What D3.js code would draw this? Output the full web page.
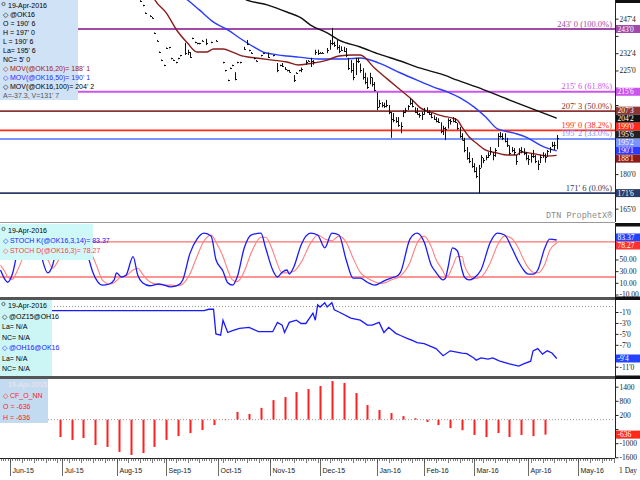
<!DOCTYPE html>
<html><head><meta charset="utf-8">
<script src="https://cdn.jsdelivr.net/npm/d3@7/dist/d3.min.js"></script>
<style>
html,body{margin:0;padding:0;background:#fff;}
svg{display:block;}
</style></head><body>
<svg id="chart" width="640" height="480"></svg>
<script>
// ================= DATA =================
const originDate = "2015-06-01";           // weekday index 0 of the time axis
const monthTickDates = ["2015-06-01","2015-07-01","2015-08-03","2015-09-01","2015-10-01","2015-11-02","2015-12-01","2016-01-04","2016-02-01","2016-03-01","2016-04-01","2016-05-02"];
const monthLabels = ["Jun-15","Jul-15","Aug-15","Sep-15","Oct-15","Nov-15","Dec-15","Jan-16","Feb-16","Mar-16","Apr-16","May-16"];

// daily bars of @OK16, first entry is weekday index 55 (17-Aug-2015); null = no trade
const barStartDay = 55;
const barHigh = [255.5,253.5,250.25,null,249,248.25,241.5,238.25,233.25,229.75,227.5,235,235.25,230.5,229.75,228.75,230.5,231.75,null,237,234,233,239.25,237.5,237,237,238.25,null,238.75,null,237.5,null,238.25,null,null,228.75,225.25,221,226.25,227.5,224.25,228.75,228.75,null,235.25,238.25,234,233,230.5,229.5,null,231.75,232.75,null,232.75,null,231.75,null,228.25,227.5,228.25,226.5,225.25,225.25,null,223,224.25,225.25,226.25,null,229.5,229.5,230.5,229.5,234,234,233,233,null,234.75,238.25,243.5,237.5,238.25,236,235.5,235.25,234.75,230.5,229.5,228.25,230.5,230.5,228,226,224,222,224,222,220,215.5,212.25,211.25,211,212.25,210,207,206.5,204.75,204.75,202.5,207.75,208.75,210,213,212.25,209,208.75,206.5,207,208.75,209,207.75,206.5,205.5,204.75,204.25,202.5,201,200.5,204.25,204,204.75,204.25,202.25,200.5,197.75,195.75,191.75,189.5,187,184.75,183,184,188.25,187,188.25,189.5,191.75,189.5,191.25,197.75,198.25,197.75,197.75,195.75,192.5,191.75,191.25,188.25,191.25,191.75,191.25,189.5,188.25,189,190.5,188.25,186,188.25,189.5,189,190.5,191.75,194,194,197];
const barLow  = [254.75,253,249.75,null,248.5,247.75,241,237.75,232.75,229.25,227,234.5,234.75,230,229.25,228.25,230,231.25,null,231.75,231.75,230.5,238.75,237,236.5,236.5,237.75,null,236,null,237,null,237.75,null,null,228.25,224.75,220.5,225.75,227,220.75,228.25,228.25,null,234,236,233.5,232.5,230,229,null,231.25,232.25,null,230.5,null,231.25,null,224.25,227,226.5,225.25,224.75,224.25,null,220,223.75,224.75,224.25,null,227.5,229,226.5,227.5,231.75,231.75,232.5,232.5,null,232.5,234,236,235.25,234,232.5,233.5,233,230.75,225.25,224,220.75,223,228.25,224,221,219,217,219,218,216,207.75,209,209,208.75,209,206,195.75,202.5,202.25,200.5,197.75,204.75,206.5,207.75,210,209,206.5,205.75,204.5,203.5,205.75,206.5,205.75,204.25,203.5,202.5,202.25,197.75,197,194.75,199.75,201.5,202.5,202.25,199.25,195.75,194.75,189.5,186.25,184.75,182.75,180.75,178.25,171.75,182.75,184.75,186,187,188.25,186,187.5,191.75,195.75,194.75,193.75,191.75,188.25,189.5,188.25,184,188.25,189,188.25,186,184,185,187,184.75,181.75,184.75,187,185,187.5,189.25,191.75,190.5,190.75];
const barClose= [255,253.25,250,null,248.75,248,241.25,238,233,229.5,227.25,234.75,235,230.25,229.5,228.5,230.25,231.5,null,232.5,233,231,239,237.25,236.75,236.75,238,null,237,null,237.25,null,238,null,null,228.5,225,220.75,226,227.25,221.5,228.5,228.5,null,234.5,236.5,233.75,232.75,230.25,229.25,null,231.5,232.5,null,231,null,231.5,null,225,227.25,227,225.5,225,224.5,null,221,224,225,225.5,null,228.5,229.25,229,228.5,233,232.5,232.75,232.75,null,234,237,237,236,235,233.5,234,233.5,231.5,226,225,222,229,229,225,222,220,218,222,219,216.5,209,211,210,209.5,210,207,204,203.5,203,201.5,201,207,208,209.5,211,209.5,207,206,205.5,206,208,207,206,205,204,203,202.5,198.5,200,199.5,203.5,203,203,202.5,200,196.5,195,190.5,187,185.5,183.5,181.5,179,182.5,187.5,186,187.5,188.5,190,188.5,190.5,196.5,196.5,195.5,194.5,192.5,189,190.5,189.5,185.5,190.5,190,189,187,186.5,188,188,185.5,184.5,187.5,188.5,187.5,190,191,192.5,192.75,195.75];
const lastOpen = 190.75, netChange = "5' 0";

// moving averages (day index, value)
const ma20Days  = [58,61,66,71,75,79,83,86,90,94,97,104,111,117,122,128,134,139,145,148,154,160,165,170,173,179,183,187,189,191,194,197,201,206,210,214,216,220,224,227,231];
const ma20Vals  = [263,256,250,241.7,236.9,233,233,234.3,234.3,233,231.7,230.4,229.5,228.7,227.4,228.2,229.5,231.3,231.7,231.7,226.1,220.8,216.5,212.2,209.1,206.5,205.2,204.3,203.5,200.4,196.1,193.5,190.4,189.1,188.3,188.3,189.6,189.1,188.3,187.8,188.125];
const ma50Days  = [70,75,80,86,92,97,103,107,111,117,122,130,136,142,148,156,165,172,179,185,190,196,201,206,213,218,224,227,231];
const ma50Vals  = [259,255.6,251.3,246,242.6,239.1,235.2,233,232.1,231.3,230.8,230,230,230,230.4,228.2,223.9,220.8,217.8,215.6,213.2,209.2,204.8,199.6,197.8,196.1,192.6,191.3,190.125];
const ma100Days = [95,100,109,117,123,127,134,139,148,156,165,173,182,189,200,210,221,231];
const ma100Vals = [258,255.6,253.4,250.4,247.8,244.7,241.3,238.2,235.2,232.1,229.1,226.1,223.5,220.8,216.7,212.6,208.2,204.25];
const maNames = ["MOV(@OK16,20)","MOV(@OK16,50)","MOV(@OK16,100)"];

// Fibonacci retracement levels
const fibLevels = [243, 215.75, 207.375, 199, 195.25, 171.75];
const fibPct    = ["100.0%","61.8%","50.0%","38.2%","33.0%","0.0%"];
const priceTicks = [165,172.5,180,187.5,195,202.5,210,217.5,225,232.5,240,247.5];

// stochastics (day index, %K, %D)
const stochDays = [-4,-2,-1,1,3,6,9,12,14,16,18,20,23,26,30,33,35,37,39,42,44,45,47,49,52,54,56,59,63,68,71,73,76,79,82,85,87,90,92,94,96,99,102,106,108,111,113,115,117,118,120,123,127,130,133,136,139,142,145,148,151,154,157,159,161,164,165,169,172,175,178,180,183,184,185,187,189,191,192,194,196,199,203,206,209,212,215,217,219,221,223,226,228,231];
const stochK = [32,15,11,25,60,88,95,85,45,27,40,75,92,95,85,55,28,12,6,8,15,27,20,23,55,23,10,5,8,3,6,15,60,85,95,90,50,30,10,6,20,70,92,95,70,32,20,28,32,25,38,75,95,92,70,95,92,50,18,18,11,6,11,15,18,23,28,85,95,80,40,28,15,18,35,70,65,32,20,15,18,32,80,95,92,70,45,32,25,25,32,70,85,83.37];
const stochD = [40,28,20,16,30,58,82,90,72,50,35,45,72,88,92,78,55,35,15,8,10,14,20,22,32,35,25,12,7,6,5,8,25,55,82,92,80,55,32,15,12,30,62,88,88,65,42,27,27,28,30,45,78,92,85,82,90,80,52,28,18,12,9,11,15,19,22,45,78,90,72,50,30,22,22,38,55,55,40,24,17,20,45,75,90,86,68,50,36,28,27,42,65,78.27];
const stochTicks = [-10,10,30,50,70,90];
const stochBands = [80,20];

// spread @OZ15@OH16 then @OH16@OK16
const spreadDays = [0,82,84,86,87,89,90,92,94,97,101,105,111,113,115,116,118,121,123,125,128,129,130,131,133,134,136,137,139,144,148,151,153,156,158,160,163,165,168,170,172,175,180,183,186,191,193,196,197,199,202,204,206,207,211,215,217,220,221,223,225,227,229,231];
const spreadVals = [-0.75,-0.75,-0.5,-0.5,-5,-5.25,-2.5,-4.75,-4.4,-4,-3.8,-4.6,-4.6,-2.9,-3.4,-4.75,-2.9,-2.5,-3.1,-3.1,-1.2,-2.5,0.3,-0.1,0.7,-0.1,0.7,-0.6,-1,-2.1,-2.5,-3.4,-3.4,-2.9,-4.75,-3.8,-4.9,-5.3,-5.85,-6.2,-6.6,-6.8,-7.7,-9,-8.1,-8.5,-8.6,-9.4,-9.8,-9.4,-9.6,-9.4,-9.8,-10,-10.5,-10.9,-10.5,-10,-8.1,-7.7,-8.7,-8.1,-8.5,-9.5];
const spreadTicks = [-1,-3,-5,-7,-9,-11];

// CFTC net non-commercial (weekly, Tuesdays from 30-Jun-2015 = day 21)
const cotFirstDay = 21;
const cotVals = [-740,-860,-780,-1080,-1160,-1370,-1500,-1420,-1160,-860,-700,-570,-440,-230,-20,330,240,500,830,960,1170,1300,1430,1640,1560,1130,620,410,280,150,60,-100,-230,-360,-450,-650,-740,-570,-740,-650,-700,-636];
const cotTicks = [1400,800,200,-400,-1000,-1600];

// ================= DRAWING =================
const svg = d3.select("#chart");
const SANS = "'Liberation Sans', Arial, sans-serif";
const SERIF = "'Liberation Serif', 'Times New Roman', serif";
const AX = 615; // right axis x

function dayIndex(s){
  const d0 = new Date(originDate+"T00:00:00Z"), d = new Date(s+"T00:00:00Z");
  let n = 0;
  for (let t = new Date(d0); t < d; t.setUTCDate(t.getUTCDate()+1)) { const w = t.getUTCDay(); if (w!==0 && w!==6) n++; }
  return n;
}
const x = d3.scaleLinear().domain([0,240]).range([10,578]);
const xs = d => Math.round(x(d)) + 0.5;

const y1 = d3.scaleLinear().domain([159.2,255.6]).range([222,0]);
const y2 = d3.scaleLinear().domain([-10,100]).range([294.5,230.3]);
const y3 = d3.scaleLinear().domain([-11,-1]).range([366.7,312]);
const y4 = d3.scaleLinear().domain([-1600,1400]).range([457.3,386.7]);

const defs = svg.append("defs");
function clip(id, top, bottom){
  defs.append("clipPath").attr("id",id).append("rect").attr("x",0).attr("y",top).attr("width",AX).attr("height",bottom-top);
  return svg.append("g").attr("clip-path",`url(#${id})`);
}
const fmt8 = v => { const s = v<0?"-":""; const a = Math.abs(v); let w = Math.floor(a+1e-9); let e = Math.round((a-w)*8); if(e===8){w++;e=0;} return s+w+"'"+e; };
const fmt8s = v => fmt8(v).replace("'","' ");

// ---------- Panel 1 ----------
const g1 = clip("c1",0,222);
const fibColors = ["#a14aa8","#cc55ee","#8c3535","#ff2a1a","#7a95ff","#2b3d66"];
fibLevels.forEach((v,i)=>{
  g1.append("line").attr("x1",0).attr("x2",AX).attr("y1",y1(v)).attr("y2",y1(v))
    .attr("stroke",fibColors[i]).attr("stroke-width",1.8);
  g1.append("text").attr("x",612).attr("y",y1(v)-2.5).attr("text-anchor","end")
    .attr("font-family",SERIF).attr("font-size",8.5).attr("fill",fibColors[i])
    .text(fmt8s(v)+" ("+fibPct[i]+")");
});
const line1 = d3.line().x(d=>x(d[0])).y(d=>y1(d[1])).curve(d3.curveMonotoneX);
[[ma100Days,ma100Vals,"#111"],[ma50Days,ma50Vals,"#2a3cff"],[ma20Days,ma20Vals,"#8b1c1c"]].forEach(([ds,vs,c])=>{
  g1.append("path").attr("d",line1(ds.map((d,i)=>[d,vs[i]]))).attr("fill","none").attr("stroke",c).attr("stroke-width",1.4);
});
const bars = barHigh.map((h,i)=>({d:barStartDay+i,h,l:barLow[i],c:barClose[i]})).filter(b=>b.h!==null);
bars.forEach(b=>{
  const xx = xs(b.d); let yt = y1(b.h), yb = y1(b.l); if (yb-yt < 1.5) { yb = yt+1.5; }
  g1.append("line").attr("x1",xx).attr("x2",xx).attr("y1",yt).attr("y2",yb).attr("stroke","#111").attr("stroke-width",1);
  g1.append("line").attr("x1",xx).attr("x2",xx+1.5).attr("y1",Math.round(y1(b.c))+0.5).attr("y2",Math.round(y1(b.c))+0.5).attr("stroke","#111").attr("stroke-width",1);
});
svg.append("text").attr("x",546).attr("y",218).attr("font-family","'Liberation Mono','DejaVu Sans Mono',monospace")
  .attr("font-size",8.5).attr("fill","#8a8a8a").text("DTN ProphetX®");

// legend panel 1
const last = bars[bars.length-1];
svg.append("rect").attr("x",0).attr("y",0).attr("width",78).attr("height",100).attr("fill","#cfe2f6");
const leg1 = [
  ["19-Apr-2016","#000"],["◇ @OK16","#000"],["O = "+fmt8s(lastOpen),"#000"],["H = "+fmt8s(last.h),"#000"],
  ["L = "+fmt8s(last.l),"#000"],["La= "+fmt8s(last.c),"#000"],["NC= "+netChange,"#000"],
  ["◇ "+maNames[0]+"= "+fmt8s(ma20Vals[ma20Vals.length-1]),"#a01818"],
  ["◇ "+maNames[1]+"= "+fmt8s(ma50Vals[ma50Vals.length-1]),"#1f2fff"],
  ["◇ "+maNames[2]+"= "+fmt8s(ma100Vals[ma100Vals.length-1]),"#000"],
  ["A=-37.3, V=131' 7","#555"]
];
leg1.forEach((r,i)=>{
  svg.append("text").attr("x", i===0?8:3).attr("y",8+i*9).attr("font-family",SANS).attr("font-size",7).attr("fill",r[1]).text(r[0]);
});
svg.append("circle").attr("cx",3.5).attr("cy",4).attr("r",1.6).attr("fill","none").attr("stroke","#333").attr("stroke-width",0.7);

// ---------- Panel 2 ----------
const g2 = clip("c2",224,297);
stochBands.forEach(v=>g2.append("line").attr("x1",0).attr("x2",AX).attr("y1",y2(v)).attr("y2",y2(v)).attr("stroke","#ff7070").attr("stroke-width",1.3));
const line2 = d3.line().x(d=>x(d[0])).y(d=>y2(d[1])).curve(d3.curveMonotoneX);
g2.append("path").attr("d",line2(stochDays.map((d,i)=>[d,stochD[i]]))).attr("fill","none").attr("stroke","#ff7f7f").attr("stroke-width",1.1);
g2.append("path").attr("d",line2(stochDays.map((d,i)=>[d,stochK[i]]))).attr("fill","none").attr("stroke","#1a1aff").attr("stroke-width",1.3);
svg.append("rect").attr("x",0).attr("y",224).attr("width",93).attr("height",36).attr("fill","#cff8f8");
[["19-Apr-2016","#000"],["◇ STOCH K(@OK16,3,14)= "+stochK[stochK.length-1].toFixed(2),"#1a1aff"],["◇ STOCH D(@OK16,3)= "+stochD[stochD.length-1].toFixed(2),"#ff4040"]]
  .forEach((r,i)=>svg.append("text").attr("x",i===0?8:3).attr("y",233+i*10).attr("font-family",SANS).attr("font-size",7).attr("fill",r[1]).text(r[0]));
svg.append("circle").attr("cx",3.5).attr("cy",229).attr("r",1.6).attr("fill","none").attr("stroke","#333").attr("stroke-width",0.7);

// ---------- Panel 3 ----------
const g3 = clip("c3",300,376);
g3.append("line").attr("x1",0).attr("x2",AX).attr("y1",y3(0)).attr("y2",y3(0)).attr("stroke","#999").attr("stroke-dasharray","1,2");
const line3 = d3.line().x(d=>x(d[0])).y(d=>y3(d[1]));
g3.append("path").attr("d",line3(spreadDays.map((d,i)=>[d,spreadVals[i]]))).attr("fill","none").attr("stroke","#1a1aff").attr("stroke-width",1.3);
svg.append("rect").attr("x",0).attr("y",300).attr("width",52).attr("height",77).attr("fill","#ccf6f6");
["19-Apr-2016","◇ @OZ15@OH16","La= N/A","NC= N/A","◇ @OH16@OK16","La= N/A","NC= N/A"].forEach((t,i)=>
  svg.append("text").attr("x",i===0?8:2).attr("y",308+i*10.5).attr("font-family",SANS).attr("font-size",7).attr("fill",i===4?"#1a1aff":"#000").text(t));
svg.append("circle").attr("cx",3.5).attr("cy",304).attr("r",1.6).attr("fill","none").attr("stroke","#333").attr("stroke-width",0.7);

// ---------- Panel 4 ----------
const g4 = clip("c4",379,457);
g4.append("line").attr("x1",0).attr("x2",AX).attr("y1",y4(0)).attr("y2",y4(0)).attr("stroke","#999").attr("stroke-dasharray","1,2");
cotVals.forEach((v,i)=>{
  const d = cotFirstDay + 5*i;
  g4.append("rect").attr("x",Math.round(x(d))-0.5).attr("width",2).attr("y",Math.min(y4(0),y4(v))).attr("height",Math.abs(y4(v)-y4(0))).attr("fill","#ff2020");
});
svg.append("rect").attr("x",0).attr("y",379).attr("width",48).attr("height",44).attr("fill","#c3dbf0");
[["19-Apr-2016","#f4e4ea"],["◇ CF_O_NN","#ff2020"],["O = "+cotVals[cotVals.length-1],"#ff2020"],["H = "+cotVals[cotVals.length-1],"#ff2020"]]
  .forEach((r,i)=>svg.append("text").attr("x",i===0?8:3).attr("y",387+i*11).attr("font-family",SANS).attr("font-size",7).attr("fill",r[1]).text(r[0]));

// ---------- Separators ----------
svg.append("line").attr("x1",0).attr("x2",AX).attr("y1",222.5).attr("y2",222.5).attr("stroke","#9a9a9a");
[[298.5,3],[377.5,3]].forEach(([yy,w])=>svg.append("line").attr("x1",0).attr("x2",640).attr("y1",yy).attr("y2",yy).attr("stroke","#555").attr("stroke-width",w));
[[0,3],[223,3.5],[296.5,3.5],[375.5,3.5]].forEach(([yy,h])=>svg.append("rect").attr("x",AX).attr("y",yy).attr("width",25).attr("height",h).attr("fill","#111"));

// ---------- Right axes with value tags ----------
const TAGH = 8;
function layoutTags(tags){
  tags.sort((a,b)=>a.y-b.y);
  for (let it=0; it<20; it++){
    let moved=false;
    for (let i=1;i<tags.length;i++){
      const ov = TAGH - (tags[i].y - tags[i-1].y);
      if (ov > 0.01){ tags[i-1].y -= ov/2; tags[i].y += ov/2; moved=true; }
    }
    if(!moved) break;
  }
  return tags;
}
function rightAxis(scale, ticks, fmt, top, bottom, tags){
  svg.append("line").attr("x1",AX+0.5).attr("x2",AX+0.5).attr("y1",top).attr("y2",bottom).attr("stroke","#222");
  const g = svg.append("g").attr("transform",`translate(${AX+0.5},0)`)
    .call(d3.axisRight(scale).tickValues(ticks).tickFormat(fmt).tickSize(3).tickPadding(1));
  g.select(".domain").remove();
  g.selectAll("line").attr("stroke","#222");
  g.selectAll("text").attr("font-family",SERIF).attr("font-size",7.5).attr("fill","#222");
  layoutTags(tags);
  g.selectAll(".tick").each(function(t){
    const ty = scale(t);
    if (tags.some(tg=>Math.abs(tg.y-ty) < TAGH)) d3.select(this).select("text").remove();
  });
  tags.forEach(tg=>{
    svg.append("rect").attr("x",AX+1).attr("y",tg.y-TAGH/2).attr("width",24).attr("height",TAGH).attr("fill",tg.bg);
    svg.append("text").attr("x",AX+2.5).attr("y",tg.y+2.7).attr("font-family",SERIF).attr("font-size",7.5).attr("fill","#fff").text(tg.txt);
  });
}
const mv = a => a[a.length-1];
rightAxis(y1, priceTicks, fmt8, 0, 222,
  fibLevels.map((v,i)=>({y:y1(v),txt:fmt8(v),bg:fibColors[i]})).concat([
    {y:y1(mv(ma100Vals)),txt:fmt8(mv(ma100Vals)),bg:"#111"},
    {y:y1(last.c),txt:fmt8(last.c),bg:"#222"},
    {y:y1(mv(ma50Vals)),txt:fmt8(mv(ma50Vals)),bg:"#2a3cff"},
    {y:y1(mv(ma20Vals)),txt:fmt8(mv(ma20Vals)),bg:"#8b1c1c"}]));
rightAxis(y2, stochTicks, d=>d.toFixed(2), 224, 297,
  [{y:y2(mv(stochK)),txt:mv(stochK).toFixed(2),bg:"#2244ff"},{y:y2(mv(stochD)),txt:mv(stochD).toFixed(2),bg:"#ff3030"}]);
rightAxis(y3, spreadTicks, fmt8, 300, 376,
  [{y:y3(mv(spreadVals)),txt:fmt8(mv(spreadVals)),bg:"#2244ff"}]);
rightAxis(y4, cotTicks, d=>d, 379, 458,
  [{y:y4(mv(cotVals)),txt:String(mv(cotVals)),bg:"#ff2a1a"}]);

// ---------- Bottom time axis ----------
svg.append("line").attr("x1",0).attr("x2",AX).attr("y1",458.5).attr("y2",458.5).attr("stroke","#222");
for (let d = -4; d <= 255; d++) {
  const xx = xs(d); if (xx > AX) break; if (xx < 0) continue;
  svg.append("line").attr("x1",xx).attr("x2",xx).attr("y1",458.5).attr("y2",d%5===0?463:461).attr("stroke","#444").attr("stroke-width",0.7);
}
monthTickDates.forEach((s,i)=>{
  const xx = xs(dayIndex(s));
  svg.append("line").attr("x1",xx).attr("x2",xx).attr("y1",458.5).attr("y2",476).attr("stroke","#444").attr("stroke-width",0.8);
  svg.append("text").attr("x",xx+2).attr("y",473).attr("font-family",SANS).attr("font-size",7).attr("fill","#222").text(monthLabels[i]);
});
svg.append("text").attr("x",619).attr("y",473).attr("font-family",SERIF).attr("font-size",7.5).attr("fill","#222").text("1 Day");
</script>
</body></html>
